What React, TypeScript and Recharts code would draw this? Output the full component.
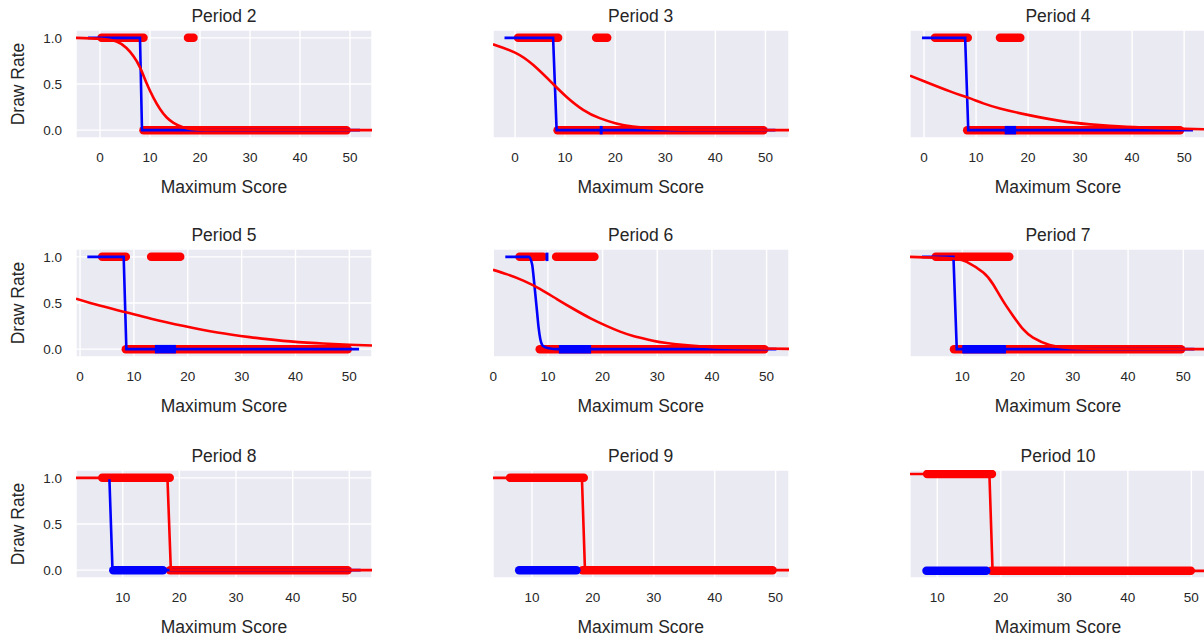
import React from 'react'
import { ComposedChart, Line, XAxis, YAxis, CartesianGrid } from 'recharts'

const periods = ['Period 2', 'Period 3', 'Period 4', 'Period 5', 'Period 6', 'Period 7', 'Period 8', 'Period 9', 'Period 10']

// x range shown by each panel and its tick values
const xDomains = [
  [-4.8, 54.4], [-4.4, 54.7], [-2.7, 54.2],
  [-0.75, 54.2], [-0.05, 54.1], [0.54, 54.1],
  [1.76, 54.0], [3.6, 52.2], [5.7, 52.3],
]
const xTicks = [
  [0, 10, 20, 30, 40, 50], [0, 10, 20, 30, 40, 50], [0, 10, 20, 30, 40, 50],
  [0, 10, 20, 30, 40, 50], [0, 10, 20, 30, 40, 50], [10, 20, 30, 40, 50],
  [10, 20, 30, 40, 50], [10, 20, 30, 40, 50], [10, 20, 30, 40, 50],
]
const yDomains = [
  [-0.085, 1.085], [-0.085, 1.085], [-0.085, 1.085],
  [-0.085, 1.085], [-0.085, 1.085], [-0.085, 1.085],
  [-0.085, 1.085], [-0.085, 1.085], [-0.074, 1.041],
]
const yTicksLabelled = [0, 0.5, 1]
const yTicksPlain = [0, 0.2, 0.4, 0.6, 0.8, 1]

// red logistic fit, [score, draw rate]
const redFit = [
  [[-4.8, 1], [0, 0.99], [3.3, 0.96], [5.3, 0.89], [6.7, 0.8], [8, 0.68], [9.3, 0.51], [10.7, 0.35], [12, 0.23], [13.3, 0.14], [14.7, 0.08], [16.7, 0.03], [20, 0.006], [30, 0.001], [54.4, 0]],
  [[-4.4, 0.93], [0, 0.84], [3.65, 0.705], [7.6, 0.5], [10.3, 0.36], [13.6, 0.22], [16.9, 0.13], [20.2, 0.072], [23.5, 0.038], [30.1, 0.011], [40, 0.002], [54.7, 0]],
  [[-2.7, 0.59], [0, 0.53], [5, 0.42], [8.3, 0.355], [11.4, 0.29], [14.6, 0.235], [20.4, 0.16], [27.4, 0.09], [33.8, 0.056], [40.3, 0.033], [46.7, 0.019], [54.2, 0.01]],
  [[-0.75, 0.547], [3.8, 0.47], [8.5, 0.4], [13.2, 0.33], [19.3, 0.25], [25.5, 0.18], [31.5, 0.13], [37.7, 0.09], [43.9, 0.065], [50, 0.048], [54.2, 0.04]],
  [[-0.05, 0.86], [2.55, 0.81], [5.6, 0.74], [8.6, 0.65], [11.7, 0.54], [14.7, 0.435], [17.8, 0.334], [20.8, 0.25], [23.2, 0.19], [25.6, 0.143], [28.7, 0.098], [31.7, 0.066], [37.8, 0.03], [43.9, 0.013], [54.1, 0.003]],
  [[0.54, 1], [7.8, 0.985], [10.8, 0.945], [13.8, 0.83], [15.6, 0.7], [17.4, 0.52], [19.2, 0.36], [21, 0.216], [22.8, 0.126], [25.8, 0.046], [28.8, 0.015], [35, 0.002], [54.1, 0]],
  [[1.76, 1], [17.9, 1], [18.5, 0], [54, 0]],
  [[3.6, 1], [18.2, 1], [18.7, 0], [52.2, 0]],
  [[5.7, 1], [18.2, 1], [18.7, 0], [52.3, 0]],
]

// blue model curve
const blueFit = [
  [[-2.4, 1], [8.0, 1], [8.4, 0], [52, 0]],
  [[-2.1, 1], [7.6, 1], [8.3, 0], [52, 0]],
  [[-0.4, 1], [7.9, 1], [8.5, 0], [51.7, 0]],
  [[1.35, 1], [8.1, 1], [8.6, 0], [51.8, 0]],
  [[2.2, 1], [6.5, 1], [7.1, 0.92], [7.4, 0.77], [7.7, 0.59], [8.0, 0.41], [8.3, 0.23], [8.6, 0.11], [9.1, 0.035], [10.1, 0.01], [12, 0], [51.8, 0]],
  [[2.7, 1], [8.4, 1], [9.0, 0], [52, 0]],
  [[7.65, 1], [8.2, 0], [52, 0]],
  [],
  [],
]

// runs of overlapping scatter points, [first score, last score]
const redAtOne = [
  [[0.3, 8.7], [17.6, 18.7]],
  [[0.6, 8.6], [16.2, 18.4]],
  [[2.1, 8.4], [14.6, 18.5]],
  [[4.1, 8.5], [13.2, 18.6]],
  [[4.8, 9.1], [11.5, 18.5]],
  [[5.2, 18.5]],
  [[6.4, 18.3]],
  [[6.4, 18.5]],
  [[8.4, 18.6]],
]
const redAtZero = [
  [[8.7, 49.3]], [[8.5, 49.6]], [[8.3, 49.2]],
  [[8.5, 49.7]], [[8.5, 49.6]], [[8.5, 49.6]],
  [[18.35, 49.7]], [[18.3, 49.5]], [[18.5, 49.9]],
]
const blueAtOne = [[], [], [], [], [[9.55, 10.1]], [], [], [], []]
const blueAtZero = [
  [], [[16.9, 17.5]], [[15.5, 17.7]],
  [[13.9, 17.8]], [[12.0, 17.9]], [[10.0, 17.9]],
  [[8.35, 17.1]], [[7.9, 17.3]], [[8.3, 17.7]],
]

const blueCaps = ['butt', 'butt', 'butt', 'butt', 'butt', 'butt', 'round', 'round', 'round']
const redCurve = ['natural', 'natural', 'natural', 'natural', 'natural', 'natural', 'linear', 'linear', 'linear']
const blueCurve = ['linear', 'linear', 'linear', 'linear', 'monotone', 'linear', 'linear', 'linear', 'linear']

const COL_X = [76, 492.7, 910]
const ROW_Y = [30, 249, 470]
const PLOT_W = 296
const PLOT_H = 108
const AXIS_W = 60
const XAXIS_H = 40
const RED = '#ff0000'
const BLUE = '#0000ff'
const INK = '#262626'
const FONT = '"Liberation Sans", Arial, sans-serif'

const pts = (pairs: number[][]) => pairs.map(([x, y]) => ({ x, y }))

function XTick(props: any) {
  const { x, y, payload } = props
  return (
    <text x={x} y={y + 24} textAnchor="middle" fontSize={13.5} fill={INK} fontFamily={FONT}>
      {payload.value}
    </text>
  )
}

function YTick(props: any) {
  const { x, y, payload } = props
  return (
    <text x={x - 14} y={y + 4.8} textAnchor="end" fontSize={13.5} fill={INK} fontFamily={FONT}>
      {payload.value.toFixed(1)}
    </text>
  )
}

function band(key: string, a: number, b: number, level: number, color: string, cap: string) {
  return (
    <Line
      key={key}
      data={[{ x: a, y: level }, { x: b, y: level }]}
      dataKey="y"
      type="linear"
      stroke={color}
      strokeWidth={8.5}
      strokeLinecap={cap as any}
      dot={false}
      activeDot={false}
      isAnimationActive={false}
    />
  )
}

function Panel({ i }: { i: number }) {
  const col = i % 3
  const row = Math.floor(i / 3)
  return (
    <div style={{ position: 'absolute', left: COL_X[col] - AXIS_W, top: ROW_Y[row] }}>
      <ComposedChart width={AXIS_W + PLOT_W} height={PLOT_H + XAXIS_H} margin={{ top: 0, right: 0, bottom: 0, left: 0 }}>
        <CartesianGrid fill="#eaeaf2" stroke="#ffffff" strokeWidth={1.4} />
        <XAxis
          type="number"
          dataKey="x"
          domain={xDomains[i]}
          ticks={xTicks[i]}
          interval={0}
          allowDataOverflow
          axisLine={false}
          tickLine={false}
          tickSize={0}
          tickMargin={0}
          height={XAXIS_H}
          tick={<XTick />}
        />
        <YAxis
          type="number"
          dataKey="y"
          domain={yDomains[i]}
          ticks={col === 0 ? yTicksLabelled : yTicksPlain}
          interval={0}
          allowDataOverflow
          axisLine={false}
          tickLine={false}
          tickSize={0}
          tickMargin={0}
          width={AXIS_W}
          tick={col === 0 ? <YTick /> : false}
        />
        {redAtOne[i].map(([a, b], k) => band('r1' + k, a, b, 1, RED, 'round'))}
        {redAtZero[i].map(([a, b], k) => band('r0' + k, a, b, 0, RED, 'round'))}
        {blueAtOne[i].map(([a, b], k) => band('b1' + k, a, b, 1, BLUE, blueCaps[i]))}
        {blueAtZero[i].map(([a, b], k) => band('b0' + k, a, b, 0, BLUE, blueCaps[i]))}
        {blueFit[i].length > 0 && (
          <Line data={pts(blueFit[i])} dataKey="y" type={blueCurve[i] as any} stroke={BLUE} strokeWidth={2.6} dot={false} activeDot={false} isAnimationActive={false} />
        )}
        <Line data={pts(redFit[i])} dataKey="y" type={redCurve[i] as any} stroke={RED} strokeWidth={2.6} dot={false} activeDot={false} isAnimationActive={false} />
      </ComposedChart>
    </div>
  )
}

export default function App() {
  return (
    <div style={{ position: 'fixed', left: 0, top: 0, width: 1204, height: 643, overflow: 'hidden', background: '#fff' }}>
      {periods.map((_, i) => <Panel key={i} i={i} />)}
      <svg width={1204} height={643} style={{ position: 'absolute', left: 0, top: 0, pointerEvents: 'none' }}>
        {periods.map((p, i) => {
          const cx = COL_X[i % 3] + PLOT_W / 2
          const top = ROW_Y[Math.floor(i / 3)]
          return (
            <g key={p} fontFamily={FONT} fill={INK} fontSize={17.5} textAnchor="middle">
              <text x={cx} y={top - 8}>{p}</text>
              <text x={cx} y={top + PLOT_H + 55}>Maximum Score</text>
              {i % 3 === 0 && (
                <text transform={`translate(24, ${top + PLOT_H / 2}) rotate(-90)`}>Draw Rate</text>
              )}
            </g>
          )
        })}
      </svg>
    </div>
  )
}
